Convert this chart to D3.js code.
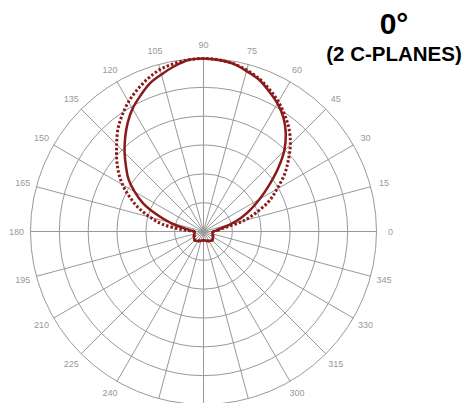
<!DOCTYPE html>
<html lang="en">
<head>
  <meta charset="utf-8">
  <title>Polar intensity (0° / 2 C-planes)</title>
  <script src="https://d3js.org/d3.v7.min.js"></script>
  <style>
    body { margin: 0; padding: 0; background: #fff; overflow: hidden; }
    svg { display: block; font-family: Arial, "Liberation Sans", sans-serif; }
    .grid line, .grid circle { stroke: #999; stroke-width: 1; fill: none; }
    .tick-label { fill: #999; font-size: 9px; }
  </style>
</head>
<body>
  <svg id="chart" width="465" height="403"></svg>
  <script>
    // angles in degrees, 0 = right, counter-clockwise
    const angles = d3.range(0, 360, 5);
    const angleTicks = d3.range(0, 360, 15);
    const ringValues = [1/6, 2/6, 3/6, 4/6, 5/6, 1].map(v => v * 100);

    // relative intensity (%), one value per 5 deg
    const planeA = [ // solid
      5.8, 7.5, 10, 16, 23, 30, 37.5, 46, 56, 66, 74, 80.5,
      85.5, 89.5, 93.5, 96, 98.5, 99.5, 100, 99.5, 97, 94, 91, 86.5,
      82, 76.5, 70.5, 64.5, 58.5, 53, 46, 38.5, 29, 20, 12, 7.5,
      5.2, 5.2, 5.3, 5.5, 5.7, 6, 6.3, 6.6, 6.9, 7.1, 6.9, 6.6,
      6.3, 6, 5.7, 5.5, 5.3, 5.2, 5.2, 5.2, 5.3, 5.5, 5.7, 6,
      6.3, 6.6, 6.9, 7.1, 6.9, 6.6, 6.3, 6, 5.7, 5.5, 5.3, 5.2
    ];
    const planeB = [ // dotted
      5.8, 8, 12, 24, 33, 42, 49, 57, 64, 71, 77, 82,
      86.6, 90.5, 94, 96.6, 98.5, 99.6, 100, 99.6, 98.5, 97, 94, 90.5,
      86.6, 82, 77, 71, 65.5, 60, 54, 47, 40, 32, 24, 12,
      5.8, 5.2, 5.3, 5.5, 5.7, 6, 6.3, 6.6, 6.9, 7.1, 6.9, 6.6,
      6.3, 6, 5.7, 5.5, 5.3, 5.2, 5.2, 5.2, 5.3, 5.5, 5.7, 6,
      6.3, 6.6, 6.9, 7.1, 6.9, 6.6, 6.3, 6, 5.7, 5.5, 5.3, 5.2
    ];

    const width = 465, height = 403;
    const cx = 203.5, cy = 231.5, R = 173;
    const curveColor = "#8b1a1a";

    const svg = d3.select("#chart");
    const r = d3.scaleLinear().domain([0, 100]).range([0, R]);
    const rad = d => d * Math.PI / 180;

    const g = svg.append("g").attr("transform", `translate(${cx},${cy})`);

    // grid
    const grid = g.append("g").attr("class", "grid");
    grid.selectAll("circle")
      .data(ringValues)
      .enter().append("circle")
      .attr("r", d => r(d));

    grid.selectAll("line")
      .data(angleTicks)
      .enter().append("line")
      .attr("x1", 0).attr("y1", 0)
      .attr("x2", d => r(100) * Math.cos(rad(d)))
      .attr("y2", d => -r(100) * Math.sin(rad(d)));

    // angle labels (the ones below the bottom edge are not in the picture)
    const labelR = R + 14;
    g.append("g")
      .selectAll("text")
      .data(angleTicks.filter(d => cy - labelR * Math.sin(rad(d)) < height - 4))
      .enter().append("text")
      .attr("class", "tick-label")
      .attr("x", d => labelR * Math.cos(rad(d)))
      .attr("y", d => -labelR * Math.sin(rad(d)))
      .attr("text-anchor", "middle")
      .attr("dominant-baseline", "central")
      .text(d => d);

    // curves
    const line = d3.lineRadial()
      .angle(d => Math.PI / 2 - rad(d[0]))
      .radius(d => r(d[1]))
      .curve(d3.curveCatmullRomClosed);

    g.append("path")
      .datum(angles.map((a, i) => [a, planeB[i]]))
      .attr("d", line)
      .attr("fill", "none")
      .attr("stroke", curveColor)
      .attr("stroke-width", 3)
      .attr("stroke-dasharray", "2.5,2");

    g.append("path")
      .datum(angles.map((a, i) => [a, planeA[i]]))
      .attr("d", line)
      .attr("fill", "none")
      .attr("stroke", curveColor)
      .attr("stroke-width", 2.5);

    // title
    svg.append("text")
      .attr("x", 394).attr("y", 34)
      .attr("text-anchor", "middle")
      .attr("font-weight", "bold")
      .attr("font-size", 30)
      .attr("fill", "#000")
      .text("0°");

    svg.append("text")
      .attr("x", 394).attr("y", 61)
      .attr("text-anchor", "middle")
      .attr("font-weight", "bold")
      .attr("font-size", 20.5)
      .attr("fill", "#000")
      .text("(2 C-PLANES)");
  </script>
</body>
</html>
